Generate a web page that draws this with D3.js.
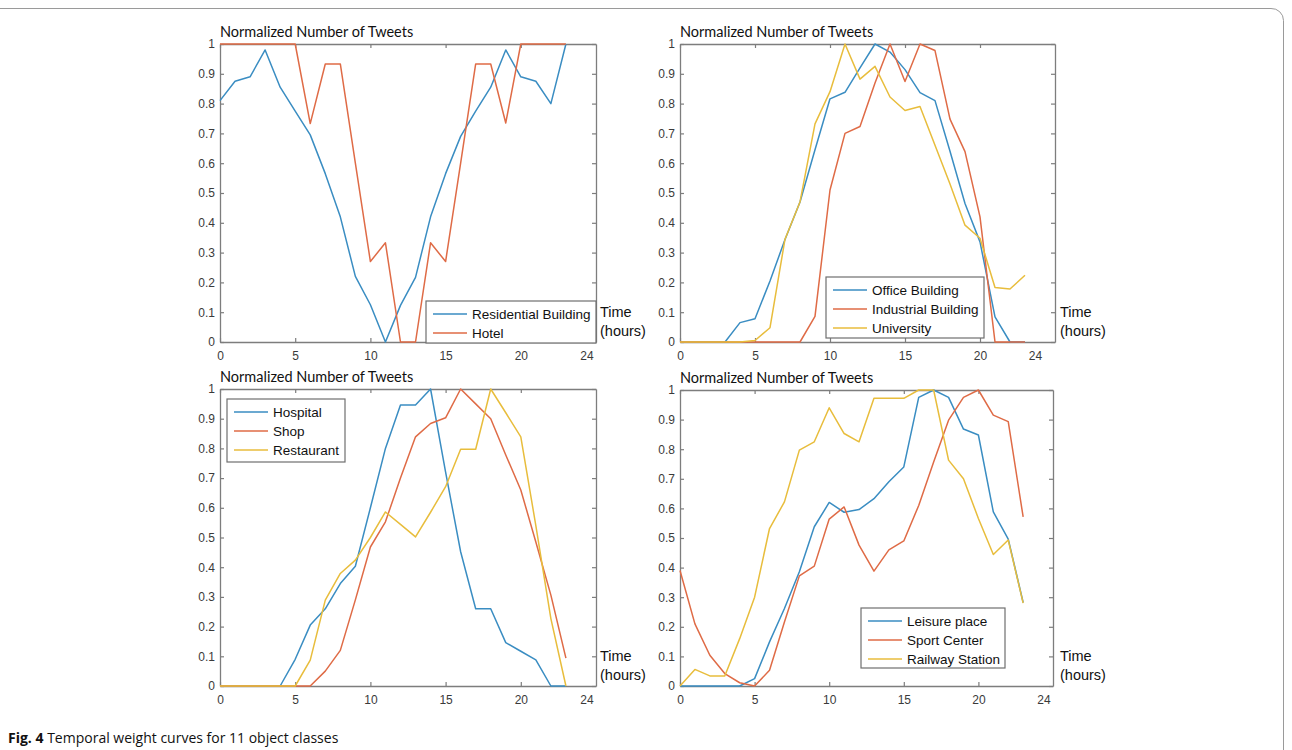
<!DOCTYPE html>
<html>
<head>
<meta charset="utf-8">
<script src="https://cdn.jsdelivr.net/npm/d3@7"></script>
<style>
body { margin: 0; background: #fff; }
</style>
</head>
<body>
<div id="main"></div>
<script>
var ctx = {
    w: 1292,
    h: 750,
};

// hours of the day (x values)
var hours = [0,1,2,3,4,5,6,7,8,9,10,11,12,13,14,15,16,17,18,19,20,21,22,23];

// normalized tweet counts
var residential = [0.81,0.875,0.89,0.98,0.855,0.775,0.695,0.565,0.42,0.22,0.125,0,0.123,0.217,0.42,0.565,0.69,0.775,0.855,0.98,0.89,0.875,0.80,1.0];
var hotel = [1,1,1,1,1,1,0.733,0.933,0.933,0.6,0.27,0.333,0,0,0.333,0.27,0.6,0.933,0.933,0.735,1,1,1,1];

var office = [0,0,0,0,0.065,0.078,0.205,0.344,0.47,0.645,0.816,0.838,0.92,1.0,0.973,0.914,0.837,0.81,0.64,0.465,0.336,0.084,0,0];
var industrial = [0,0,0,0,0,0,0,0,0,0.086,0.51,0.70,0.723,0.869,1.0,0.874,1.0,0.978,0.748,0.639,0.42,0,0,0];
var university = [0,0,0,0,0,0.005,0.048,0.345,0.47,0.732,0.84,1.0,0.882,0.925,0.822,0.777,0.79,0.66,0.53,0.392,0.348,0.183,0.178,0.224];

var hospital = [0,0,0,0,0,0.09,0.205,0.26,0.345,0.403,0.6,0.8,0.946,0.946,1.0,0.72,0.452,0.26,0.26,0.146,0.117,0.088,0,0];
var shop = [0,0,0,0,0,0,0,0.05,0.12,0.29,0.468,0.553,0.70,0.839,0.884,0.903,1.0,0.95,0.9,0.778,0.66,0.485,0.306,0.094];
var restaurant = [0,0,0,0,0,0,0.087,0.289,0.379,0.424,0.5,0.586,0.544,0.502,0.585,0.671,0.797,0.797,1.0,0.92,0.839,0.54,0.227,0];

var leisure = [0,0,0,0,0,0.025,0.149,0.262,0.386,0.538,0.62,0.587,0.596,0.633,0.69,0.74,0.975,1.0,0.975,0.868,0.848,0.588,0.496,0.282];
var sport = [0.39,0.21,0.104,0.042,0.011,0,0.053,0.216,0.372,0.405,0.564,0.605,0.476,0.388,0.46,0.49,0.61,0.757,0.898,0.975,1.0,0.915,0.893,0.571];
var railway = [0,0.056,0.034,0.034,0.16,0.30,0.532,0.622,0.797,0.825,0.94,0.853,0.825,0.972,0.972,0.972,1.0,1.0,0.763,0.70,0.566,0.444,0.493,0.28];

// ticks
var xTicks = [0,5,10,15,20];
var xLastLabel = "24";
var yTicks = [0,0.1,0.2,0.3,0.4,0.5,0.6,0.7,0.8,0.9,1];

var titleText = "Normalized Number of Tweets";
var timeText = ["Time", "(hours)"];
var captionBold = "Fig. 4";
var captionText = " Temporal weight curves for 11 object classes";

// matlab default line colours, a bit washed out like the scan
var colors = ["#3a8dc2", "#df6b46", "#e8bd3c"];

// layout of the four sub plots
var panels = [
    { x: 220, y: 44, w: 376, h: 298, last: 24.4,
      series: [residential, hotel], names: ["Residential Building", "Hotel"],
      legend: { x: 426, y: 301, w: 170, h: 42 } },
    { x: 680, y: 44, w: 375, h: 298, last: 23.7,
      series: [office, industrial, university], names: ["Office Building", "Industrial Building", "University"],
      legend: { x: 826, y: 277, w: 158, h: 61 } },
    { x: 220, y: 389, w: 376, h: 297, last: 24.4,
      series: [hospital, shop, restaurant], names: ["Hospital", "Shop", "Restaurant"],
      legend: { x: 227, y: 399, w: 118, h: 63 } },
    { x: 680, y: 390, w: 373, h: 296, last: 24.4,
      series: [leisure, sport, railway], names: ["Leisure place", "Sport Center", "Railway Station"],
      legend: { x: 861, y: 608, w: 144, h: 60 } }
];

var axisColor = "#7d7d7d";
var tickFont = "'Liberation Sans', Arial, sans-serif";

var styleAxis = function(g){
    g.selectAll(".domain").attr("stroke", axisColor).attr("stroke-width", 1.3);
    g.selectAll(".tick line").attr("stroke", axisColor).attr("stroke-width", 1.2);
    g.selectAll(".tick text").attr("fill", "#3a3a3a").style("font-family", tickFont).style("font-size", "12px");
};

var drawPanel = function(svg, p){
    var x = d3.scaleLinear().domain([0, 25]).range([p.x, p.x + p.w]);
    var y = d3.scaleLinear().domain([0, 1]).range([p.y + p.h, p.y]);
    var g = svg.append("g");

    // title above the axes
    g.append("text")
     .attr("x", p.x)
     .attr("y", p.y - 7)
     .style("font-family", "Lato, 'Open Sans', sans-serif")
     .style("font-size", "14.5px")
     .attr("fill", "#111")
     .text(titleText);

    // box with inward ticks
    g.append("g").attr("transform", "translate(0," + (p.y + p.h) + ")")
     .call(d3.axisBottom(x).tickValues(xTicks).tickSizeInner(-4).tickSizeOuter(0).tickPadding(9))
     .call(styleAxis);
    g.append("g").attr("transform", "translate(0," + p.y + ")")
     .call(d3.axisTop(x).tickValues(xTicks).tickSizeInner(-4).tickSizeOuter(0).tickFormat(""))
     .call(styleAxis);
    g.append("g").attr("transform", "translate(" + p.x + ",0)")
     .call(d3.axisLeft(y).tickValues(yTicks).tickSizeInner(-4).tickSizeOuter(0).tickPadding(5).tickFormat(d3.format("")))
     .call(styleAxis);
    g.append("g").attr("transform", "translate(" + (p.x + p.w) + ",0)")
     .call(d3.axisRight(y).tickValues(yTicks).tickSizeInner(-4).tickSizeOuter(0).tickFormat(""))
     .call(styleAxis);

    // the odd "24" label at the right end
    g.append("text")
     .attr("x", x(p.last))
     .attr("y", p.y + p.h + 9)
     .attr("dy", "0.71em")
     .attr("text-anchor", "middle")
     .attr("fill", "#3a3a3a")
     .style("font-family", tickFont)
     .style("font-size", "12px")
     .text(xLastLabel);

    // curves
    var line = d3.line()
                 .x(function(d, i){ return x(hours[i]); })
                 .y(function(d){ return y(d); });
    g.append("g").selectAll("path")
     .data(p.series)
     .enter()
     .append("path")
     .attr("d", line)
     .attr("fill", "none")
     .attr("stroke", function(d, i){ return colors[i]; })
     .attr("stroke-width", 1.5)
     .attr("stroke-linejoin", "round");

    // legend
    var lg = g.append("g");
    lg.append("rect")
      .attr("x", p.legend.x).attr("y", p.legend.y)
      .attr("width", p.legend.w).attr("height", p.legend.h)
      .attr("fill", "#fff")
      .attr("stroke", "#6f6f6f")
      .attr("stroke-width", 1.2);
    var rows = lg.selectAll("g.row")
                 .data(p.names)
                 .enter()
                 .append("g")
                 .attr("class", "row")
                 .attr("transform", function(d, i){ return "translate(" + p.legend.x + "," + (p.legend.y + 13 + i * 19) + ")"; });
    rows.append("line")
        .attr("x1", 7).attr("x2", 41)
        .attr("stroke", function(d, i){ return colors[i]; })
        .attr("stroke-width", 1.5);
    rows.append("text")
        .attr("x", 46)
        .attr("dy", "0.35em")
        .attr("fill", "#111")
        .style("font-family", tickFont)
        .style("font-size", "13.5px")
        .text(function(d){ return d; });

    // "Time (hours)" next to the x axis end
    g.selectAll("text.time")
     .data(timeText)
     .enter()
     .append("text")
     .attr("class", "time")
     .attr("x", p.x + 380)
     .attr("y", function(d, i){ return p.y + p.h - 30 + i * 19; })
     .attr("dy", "0.35em")
     .attr("fill", "#111")
     .style("font-family", tickFont)
     .style("font-size", "14.5px")
     .text(function(d){ return d; });
};

var createViz = function(){
    var svg = d3.select("#main").append("svg")
                .attr("width", ctx.w)
                .attr("height", ctx.h);

    // figure frame with rounded corner top right
    svg.append("path")
       .attr("d", "M0,8.5 H1271 A12,12 0 0 1 1283.5,20.5 V760")
       .attr("fill", "none")
       .attr("stroke", "#9a9a9a")
       .attr("stroke-width", 1);

    for(var i = 0; i < panels.length; i++){
        drawPanel(svg, panels[i]);
    }

    var cap = svg.append("text")
                 .attr("x", 8)
                 .attr("y", 743)
                 .attr("fill", "#111")
                 .style("font-family", "'Open Sans', sans-serif")
                 .style("font-size", "14px");
    cap.append("tspan").style("font-weight", "bold").text(captionBold);
    cap.append("tspan").text(captionText);
};

createViz();
</script>
</body>
</html>
